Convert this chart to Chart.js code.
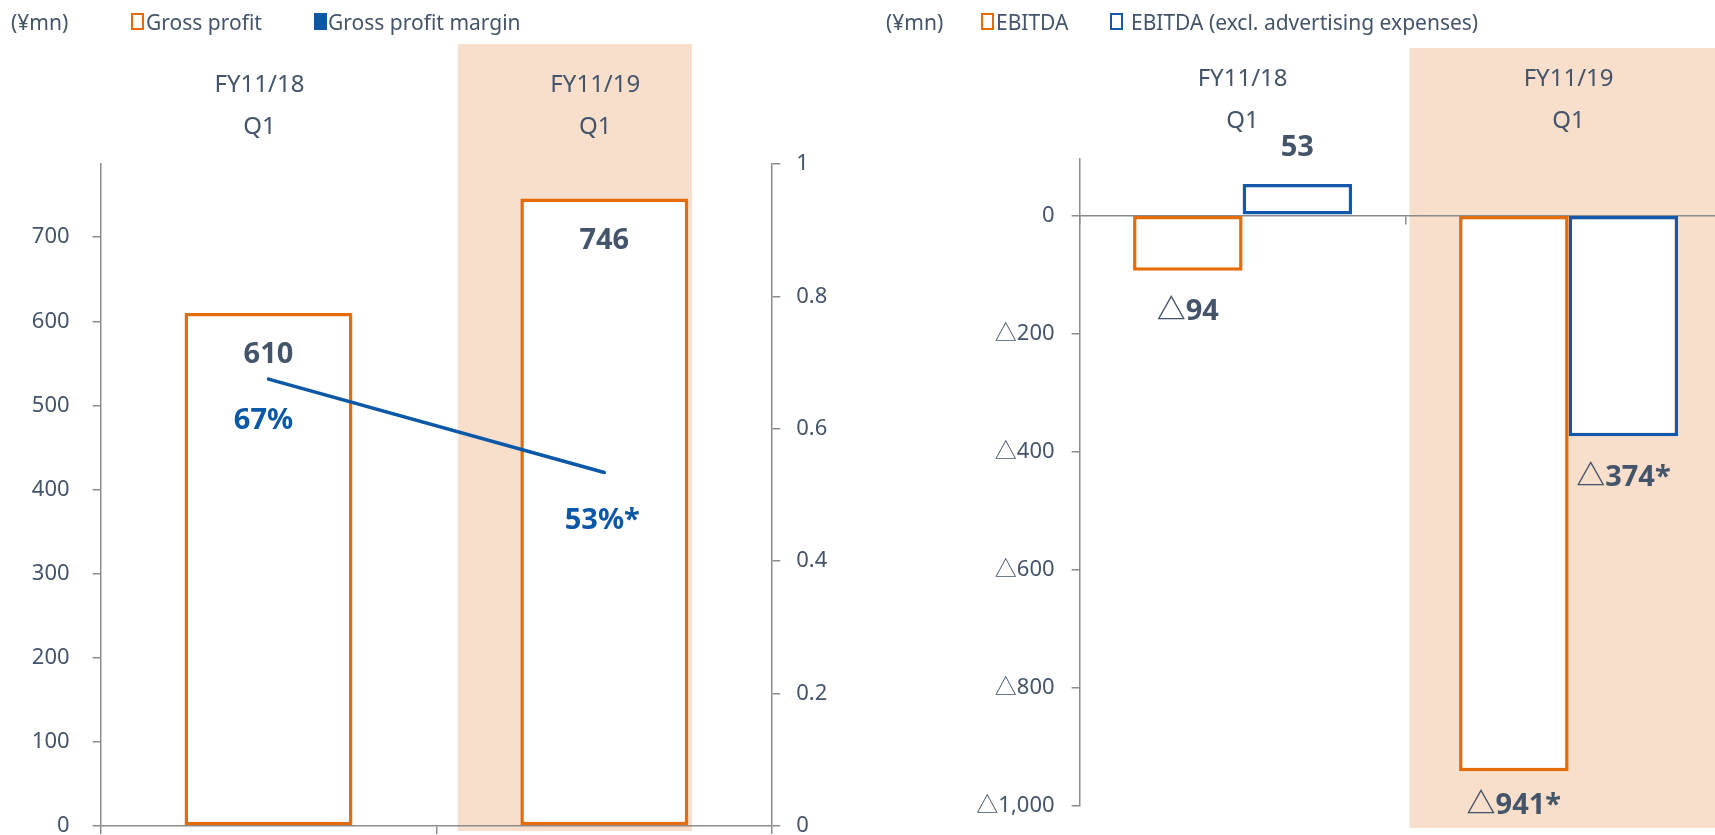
<!DOCTYPE html>
<html>
<head>
<meta charset="utf-8">
<script src="https://cdn.jsdelivr.net/npm/chart.js@4/dist/chart.umd.min.js"></script>
<style>
  html, body { margin: 0; padding: 0; background: #fff; }
  body { width: 1715px; height: 835px; overflow: hidden; position: relative;
         font-family: "Noto Sans", "Noto Sans CJK JP", sans-serif; color: #44546A; }
  canvas { position: absolute; top: 0; }
  #gp-chart { left: 0; }
  #eb-chart { left: 860px; }
  .lg { position: absolute; top: 0; line-height: 44px; font-size: 21px; white-space: nowrap; z-index: 2; }
  .sw { position: absolute; top: 13px; width: 13px; height: 17px; box-sizing: border-box; z-index: 2; }
</style>
</head>
<body>
<canvas id="gp-chart" width="860" height="835"></canvas>
<canvas id="eb-chart" width="880" height="835"></canvas>

<!-- legends -->
<span class="lg" style="left:11px">(¥mn)</span>
<span class="sw" style="left:131px;border:2px solid #E46C0A"></span>
<span class="lg" style="left:146px">Gross profit</span>
<span class="sw" style="left:314px;background:#0B57A8"></span>
<span class="lg" style="left:328px">Gross profit margin</span>

<span class="lg" style="left:886px">(¥mn)</span>
<span class="sw" style="left:981px;border:2px solid #E46C0A"></span>
<span class="lg" style="left:996px">EBITDA</span>
<span class="sw" style="left:1110px;border:2px solid #1358AA"></span>
<span class="lg" style="left:1131px">EBITDA (excl. advertising expenses)</span>

<script>
// Data
const categories = [['FY11/18', 'Q1'], ['FY11/19', 'Q1']];

const grossProfit = [610, 746];
const grossProfitLabels = ['610', '746'];
const grossMargin = [0.675, 0.534];
const grossMarginLabels = ['67%', '53%*'];
const grossTicks = [0, 100, 200, 300, 400, 500, 600, 700];
const marginTicks = [0, 0.2, 0.4, 0.6, 0.8, 1];

const ebitda = [-94, -941];
const ebitdaLabels = ['△94', '△941*'];
const ebitdaExAd = [53, -374];
const ebitdaExAdLabels = ['53', '△374*'];
const ebitdaTicks = [-1000, -800, -600, -400, -200, 0];
const ebitdaTickLabels = ['△1,000', '△800', '△600', '△400', '△200', '0'];

// Styles
const FONT = '"Noto Sans", "Noto Sans CJK JP", sans-serif';
const TEXT = '#44546A';
const AXIS = '#8C8C8C';
const ORANGE = '#E46C0A';
const BLUE = '#0B57A8';
const BLUE_BAR = '#1358AA';
const BAND = '#F7DFCB';

Chart.defaults.font.family = FONT;
Chart.defaults.color = TEXT;

// draws the value labels next to bars / points
const valueLabels = {
    id: 'valueLabels',
    afterDatasetsDraw(chart) {
        const ctx = chart.ctx;
        chart.data.datasets.forEach((ds, i) => {
            if (!ds.valueText) return;
            const meta = chart.getDatasetMeta(i);
            meta.data.forEach((el, j) => {
                const off = ds.valueOffsets[j];
                ctx.save();
                ctx.font = 'bold 29px ' + FONT;
                ctx.fillStyle = ds.valueColor || TEXT;
                ctx.textAlign = 'center';
                ctx.textBaseline = 'middle';
                ctx.fillText(ds.valueText[j], el.x + off[0], el.y + off[1]);
                ctx.restore();
            });
        });
    }
};

// shaded band behind the latest quarter
const highlightBand = {
    id: 'highlightBand',
    beforeDraw(chart, args, opts) {
        const x = chart.scales.x;
        const w = x.width / x.ticks.length;
        const c = x.getPixelForValue(1);
        const left = c + opts.from * w;
        const right = opts.to == null ? chart.width : c + opts.to * w;
        const ctx = chart.ctx;
        ctx.save();
        ctx.fillStyle = BAND;
        ctx.fillRect(left, opts.top, right - left, chart.chartArea.bottom + opts.below - opts.top);
        ctx.restore();
    }
};

const tickFont = { size: 22, family: FONT };
const catFont = { size: 24, family: FONT, lineHeight: '42px' };

// fixed axis width, no extra vertical room for edge labels
const fixWidth = w => s => { s.width = w; s.paddingTop = 0; s.paddingBottom = 0; };

// Gross profit chart
new Chart(document.getElementById('gp-chart'), {
    data: {
        labels: categories,
        datasets: [
            {
                type: 'line',
                label: 'Gross profit margin',
                data: grossMargin,
                yAxisID: 'y1',
                borderColor: BLUE,
                borderWidth: 3.5,
                borderCapStyle: 'round',
                pointRadius: 0,
                order: 0,
                valueText: grossMarginLabels,
                valueColor: BLUE,
                valueOffsets: [[-5, 42], [-2, 48]]
            },
            {
                type: 'bar',
                label: 'Gross profit',
                data: grossProfit,
                yAxisID: 'y',
                backgroundColor: '#FFFFFF',
                borderColor: ORANGE,
                borderWidth: 3.5,
                borderSkipped: false,
                barPercentage: 0.5,
                categoryPercentage: 1,
                order: 1,
                valueText: grossProfitLabels,
                valueOffsets: [[0, 42], [0, 42]]
            }
        ]
    },
    options: {
        responsive: false,
        animation: false,
        layout: { padding: 0 },
        plugins: {
            legend: { display: false },
            tooltip: { enabled: false },
            highlightBand: { from: -0.436, to: 0.261, top: 44, below: 5 }
        },
        scales: {
            x: {
                type: 'category',
                position: 'bottom',
                offset: true,
                ticks: { display: false },
                grid: { display: true, drawOnChartArea: false, tickLength: 8, color: AXIS, lineWidth: 1.5, offset: true },
                border: { display: true, color: AXIS, width: 1.5 },
                afterFit: s => { s.height = 9; }
            },
            x2: {
                type: 'category',
                position: 'top',
                offset: true,
                ticks: { font: catFont, color: TEXT, padding: 16, labelOffset: -9, maxRotation: 0, autoSkip: false },
                grid: { display: false, drawTicks: false, offset: true },
                border: { display: false },
                afterFit: s => { s.height = 164; }
            },
            y: {
                position: 'left',
                min: 0,
                max: 787,
                afterBuildTicks: s => { s.ticks = grossTicks.map(v => ({ value: v })); },
                ticks: { font: tickFont, color: TEXT, padding: 23, callback: v => String(v) },
                grid: { drawOnChartArea: false, tickLength: 8, color: AXIS, lineWidth: 1.5 },
                border: { color: AXIS, width: 1.5 },
                afterFit: fixWidth(100.6)
            },
            y1: {
                position: 'right',
                min: 0,
                max: 1,
                afterBuildTicks: s => { s.ticks = marginTicks.map(v => ({ value: v })); },
                ticks: { font: tickFont, color: TEXT, padding: 16, callback: v => String(v) },
                grid: { drawOnChartArea: false, tickLength: 8, color: AXIS, lineWidth: 1.5 },
                border: { color: AXIS, width: 1.5 },
                afterFit: fixWidth(87.8)
            }
        }
    },
    plugins: [highlightBand, valueLabels]
});

// EBITDA chart
new Chart(document.getElementById('eb-chart'), {
    type: 'bar',
    data: {
        labels: categories,
        datasets: [
            {
                label: 'EBITDA',
                data: ebitda,
                backgroundColor: '#FFFFFF',
                borderColor: ORANGE,
                borderWidth: 3.5,
                borderSkipped: false,
                barPercentage: 1,
                categoryPercentage: 0.672,
                valueText: ebitdaLabels,
                valueOffsets: [[0, 41], [0, 35]]
            },
            {
                label: 'EBITDA (excl. advertising expenses)',
                data: ebitdaExAd,
                backgroundColor: '#FFFFFF',
                borderColor: BLUE_BAR,
                borderWidth: 3.5,
                borderSkipped: false,
                barPercentage: 1,
                categoryPercentage: 0.672,
                valueText: ebitdaExAdLabels,
                valueOffsets: [[0, -36], [0, 42]]
            }
        ]
    },
    options: {
        responsive: false,
        animation: false,
        layout: { padding: { left: 0, top: 0, right: 8.4, bottom: 29 } },
        plugins: {
            legend: { display: false },
            tooltip: { enabled: false },
            highlightBand: { from: -0.488, to: null, top: 48, below: 22 }
        },
        scales: {
            x: {
                type: 'category',
                position: { y: 0 },
                ticks: { display: false },
                grid: { display: true, drawOnChartArea: false, tickLength: 8, color: AXIS, lineWidth: 1.5, offset: true },
                border: { display: true, color: AXIS, width: 1.5 }
            },
            x2: {
                type: 'category',
                position: 'top',
                ticks: { font: catFont, color: TEXT, padding: 16, maxRotation: 0, autoSkip: false },
                grid: { display: false, drawTicks: false },
                border: { display: false },
                afterFit: s => { s.height = 158.6; }
            },
            y: {
                position: 'left',
                min: -1000,
                max: 96,
                afterBuildTicks: s => { s.ticks = ebitdaTicks.map(v => ({ value: v })); },
                ticks: { font: tickFont, color: TEXT, padding: 17, callback: (v, i) => ebitdaTickLabels[i] },
                grid: { drawOnChartArea: false, tickLength: 8, color: AXIS, lineWidth: 1.5 },
                border: { color: AXIS, width: 1.5 },
                afterFit: fixWidth(219.6)
            }
        }
    },
    plugins: [highlightBand, valueLabels]
});
</script>
</body>
</html>
